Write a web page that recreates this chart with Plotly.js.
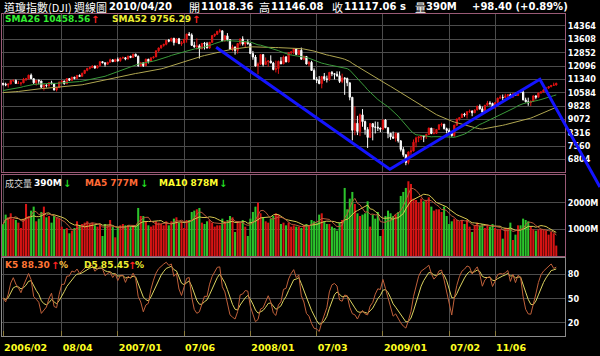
<!DOCTYPE html>
<html><head><meta charset="utf-8">
<script src="https://cdn.plot.ly/plotly-3.0.1.min.js"></script>
<style>html,body{margin:0;padding:0;background:#000;}#chart{width:600px;height:356px;}</style>
</head><body><div id="chart"></div>
<script>
// ---------- DATA ----------
const firstWeek = '2006-02-24';   // first weekly candle (Friday)
// 52 weekly closes before the first candle (only used to warm up the moving averages)
const preClose = [10841,10940,10774,10629,10442,10404,10461,10088,10157,10193,10345,10140,10471,10542,10460,10513,10623,10297,10303,10449,10640,10651,10641,10558,10600,10559,10397,10447,10679,10641,10419,10569,10292,10287,10215,10403,10531,10686,10766,10932,10878,10778,10876,10883,10718,10959,10960,10667,10907,10793,10919,11115];
const openP = [11115,11062,11022,11076,11279,11280,11109,11120,11137,11347,11367,11577,11380,11144,11278,11247,10891,11014,10989,11150,11090,10739,10868,11185,11240,11088,11381,11284,11464,11392,11560,11508,11679,11850,11961,12002,12090,11987,12108,12342,12280,12194,12307,12445,12343,
12463,12398,12556,12565,12487,12653,12580,12767,12647,12114,12276,12110,12481,12354,12560,12612,12961,13120,13264,13327,13556,13507,13668,13424,13639,13360,13409,13611,13908,13851,13265,13182,13240,13079,13379,13358,13114,13442,13821,13896,14066,14093,13522,13807,13595,13043,13177,12981,13372,13626,13340,13451,
13366,12800,12606,12099,12207,12743,12183,12348,12381,12266,11894,11951,12361,12216,12609,12325,12849,12891,13058,12745,12986,12480,12638,12209,12307,11843,11346,11288,11100,11496,11370,11326,11734,11659,11628,11544,11220,11421,11388,11143,10325,8451,8852,8378,9325,8943,8497,8046,8829,8635,8629,8579,
8515,9034,8599,8281,8077,8001,8280,7850,7366,7063,6627,7224,7278,7776,8018,8083,8131,8076,8212,8575,8268,8277,8500,8764,8799,8539,8438,8280,8146,8743,9093,9172,9370,9321,9505,9544,9441,9605,9820,9665,9487,9865,9995,9972,9713,10023,10270,10318,10309,10389,10471,10329,
10520,10428,10618,10610,10173,10067,10012,10099,10402,10325,10567,10625,10742,10851,10927,10997,11018.36];
const highP = [11137,11150,11090,11290,11330,11330,11250,11150,11420,11420,11600,11670,11390,11300,11330,11260,11070,11060,11190,11260,11140,10920,11200,11290,11260,11400,11400,11480,11480,11590,11620,11720,11870,11990,12060,12140,12120,12140,12360,12360,12300,12330,12510,12470,12510,
12580,12560,12630,12600,12680,12670,12790,12790,12690,12330,12300,12510,12500,12580,12640,12970,13140,13290,13350,13560,13630,13690,13690,13660,13690,13510,13620,13920,14020,13950,13470,13660,13330,13400,13460,13460,13450,13850,13930,14080,14200,14100,13850,13960,13600,13300,13190,13400,13660,13780,13470,13600,
13400,12950,12720,12300,12760,12750,12580,12430,12700,12330,12400,12400,12600,12690,12660,12880,12930,13100,13080,13030,13140,12690,12660,12370,12390,11960,11470,11530,11530,11700,11550,11760,11810,11700,11790,11790,11660,11460,11440,11150,10330,9800,9270,9400,9650,9000,8630,8870,8830,8950,8930,8600,
9050,9090,8620,8300,8380,8320,8300,7900,7500,7070,7250,7510,7930,8090,8100,8170,8140,8260,8600,8580,8580,8510,8780,8880,8800,8600,8560,8330,8760,9110,9190,9400,9440,9520,9630,9580,9630,9840,9920,9800,9900,10120,10100,10020,10050,10300,10440,10480,10520,10500,10530,10530,
10590,10630,10730,10730,10300,10300,10140,10420,10420,10580,10640,10790,10900,10940,11010,11150,11146.08];
const lowP = [10980,10950,10870,11060,11190,11100,11090,10980,11130,11240,11350,11370,11080,10990,11060,10860,10700,10880,10880,11060,10700,10650,10860,11100,11040,11080,11240,11270,11340,11380,11480,11500,11640,11800,11900,11990,11930,11960,12100,12250,12060,12170,12300,12320,12330,
12330,12340,12510,12420,12470,12540,12560,12620,12050,12040,12040,12100,12240,12350,12510,12600,12900,13080,13190,13270,13440,13480,13260,13400,13340,13240,13400,13420,13800,13240,13130,13020,12520,13040,13030,13100,13080,13400,13740,13860,13980,13510,13480,13500,13030,12930,12740,12800,13250,13250,13160,13300,
12780,12450,12060,11630,12150,12070,12150,12050,12250,11850,11730,11650,12200,12200,12310,12290,12740,12760,12730,12710,12470,12420,12180,12080,11830,11330,11130,11060,10830,11250,11160,11250,11520,11330,11480,11130,11120,10460,10950,10150,7880,8170,8180,8120,8650,8200,7450,8030,7880,8270,8410,8350,
8470,8570,8000,7910,7990,7810,7750,7250,6950,6470,6520,7050,7250,7490,7780,7900,7780,7960,8180,8230,8220,8250,8490,8660,8500,8280,8250,8090,8080,8710,9000,9160,9220,9120,9440,9250,9430,9580,9620,9430,9480,9850,9860,9680,9670,10000,10240,10170,10300,10270,10300,10310,
10420,10420,10560,10150,10030,9840,9830,10090,10210,10320,10530,10600,10730,10800,10890,10970,10990];
const closeP = [11062,11022,11076,11279,11280,11109,11120,11137,11347,11367,11577,11380,11144,11278,11247,10891,11014,10989,11150,11090,10739,10868,11185,11240,11088,11381,11284,11464,11392,11560,11508,11679,11850,11961,12002,12090,11987,12108,12342,12280,12194,12307,12445,12343,12463,
12398,12556,12565,12487,12653,12580,12767,12647,12114,12276,12110,12481,12354,12560,12612,12961,13120,13264,13327,13556,13507,13668,13424,13639,13360,13409,13611,13908,13851,13265,13182,13240,13079,13379,13358,13114,13442,13821,13896,14066,14093,13522,13807,13595,13043,13177,12981,13372,13626,13340,13451,13366,
12800,12606,12099,12207,12743,12183,12348,12381,12266,11894,11951,12361,12216,12609,12325,12849,12891,13058,12745,12986,12480,12638,12209,12307,11843,11346,11288,11100,11496,11370,11326,11734,11659,11628,11544,11220,11421,11388,11143,10325,8451,8852,8378,9325,8943,8497,8046,8829,8635,8629,8579,8515,
9034,8599,8281,8077,8001,8280,7850,7366,7063,6627,7224,7278,7776,8018,8083,8131,8076,8212,8575,8268,8277,8500,8764,8799,8539,8438,8280,8146,8743,9093,9172,9370,9321,9505,9544,9441,9605,9820,9665,9487,9865,9995,9972,9713,10023,10270,10318,10309,10389,10471,10329,10520,
10428,10618,10610,10173,10067,10012,10099,10402,10325,10567,10625,10742,10851,10927,10997,11019,11117.06];
const volume = [1190,1550,1450,1600,1400,1350,1250,1050,1400,1950,1500,1700,1850,1300,1400,1650,1850,1450,1500,1250,1500,1450,1400,1100,1000,1050,850,950,1050,1300,1150,1200,1250,1300,1200,1250,1150,1100,1200,750,1200,1150,1350,1100,700,
1100,1150,1200,1150,1150,1100,1150,1150,1800,1500,1500,1300,1150,1100,1150,1300,1250,1200,1150,1300,1150,1300,1400,1450,1250,1300,1050,1350,1350,1650,1700,1750,1800,1250,1200,1300,1350,1250,1100,1150,1150,1400,1300,1350,1500,1450,900,1300,1250,1350,1100,750,
1400,1650,1850,2000,1600,1450,1300,1250,1400,1500,1600,1550,1200,1250,1150,1250,1100,1150,1100,1100,1050,1150,1200,1150,1350,1300,1250,1550,1600,1300,1200,1200,1100,1050,950,1250,1350,2550,1750,2150,2400,1950,1600,1500,1550,1600,2050,1100,1550,1400,1650,750,
1000,1500,1700,1600,1500,1550,1650,2250,2400,2550,2800,2700,2150,2100,2000,2150,2050,2100,2200,1850,1700,1750,1750,1650,1850,1500,1200,1300,1400,1350,1300,1350,1200,1350,1100,900,1150,1250,1150,1200,1050,1150,1100,1200,1050,1000,1000,650,1050,1050,1250,600,
800,1150,1150,1400,1350,1300,1100,1000,950,1000,1000,1000,950,800,900,850,390];
const xTickDates = ['2006-02-24','2006-08-04','2007-01-05','2007-07-06','2008-01-04','2008-07-04','2009-01-02','2009-07-03','2009-11-06'];
const xTickText  = ['2006/02','08/04','2007/01','07/06','2008/01','07/03','2009/01','07/02','11/06'];
const priceTicks = [6804,7560,8316,9072,9828,10584,11340,12096,12852,13608,14364];
const volTicks = [1000,2000];
const volTickText = ['1000M','2000M'];
const kdTicks = [20,50,80];
// hand-drawn blue trend line pivots (date, index level)
const trendDates = ['2007-10-02','2009-01-21','2010-03-09','2010-08-21'];
const trendLevels = [13156,6239,11342,5235];

// ---------- DERIVED ----------
const n = closeP.length;
const t0 = Date.parse(firstWeek + 'T00:00:00Z');
const dates = closeP.map((_, i) => new Date(t0 + i*7*864e5).toISOString().slice(0,10));
const allClose = preClose.concat(closeP);
function sma(p){ return closeP.map((_, i) => { let s=0; for(let j=i+preClose.length-p+1;j<=i+preClose.length;j++) s+=allClose[j]; return s/p; }); }
const sma26 = sma(26), sma52 = sma(52);
function vma(p){ return volume.map((_, i) => { let s=0,c=0; for(let j=Math.max(0,i-p+1);j<=i;j++){s+=volume[j];c++;} return s/c; }); }
const vma5 = vma(5), vma10 = vma(10);
const K=[], D=[]; let k=50, d=50;
for(let i=0;i<n;i++){
  let lo=Infinity, hi=-Infinity;
  for(let j=Math.max(0,i-4);j<=i;j++){ lo=Math.min(lo,lowP[j]); hi=Math.max(hi,highP[j]); }
  const rsv = hi>lo ? (closeP[i]-lo)/(hi-lo)*100 : 50;
  k = k*2/3 + rsv/3; d = d*2/3 + k/3; K.push(k); D.push(d);
}
const volColors = closeP.map((c,i) => c >= openP[i] ? '#d81414' : '#2cc42c');

// ---------- LAYOUT GEOMETRY ----------
const W=600, H=356, M={l:2,r:35,t:14,b:20};
const pw=W-M.l-M.r, ph=H-M.t-M.b;
const px = x => (x-M.l)/pw;
const py = y => (H-M.b-y)/ph;
const priceDom=[py(172),1], volDom=[py(256),py(175)], kdDom=[0,py(258)];
const xRange=['2006-02-21','2010-05-17'];
const priceRange=[6086,15044], volRange=[0,3035], kdRange=[3.5,100.2];

const gridC='#4c4c4c';
const tickFontY={family:'DejaVu Sans Condensed, DejaVu Sans',size:9,color:'#ffffff',weight:'bold'};
function xax(anchor, extra){ return Object.assign({anchor:anchor,type:'date',range:xRange,tickvals:xTickDates,
  showticklabels:false,showgrid:true,gridcolor:gridC,gridwidth:1,ticks:'',showline:true,mirror:true,
  linecolor:'#9a5a76',linewidth:1,zeroline:false,fixedrange:true,rangeslider:{visible:false}}, extra||{}); }
function yax(anchor, dom, range, extra){ return Object.assign({anchor:anchor,domain:dom,range:range,side:'right',
  showgrid:true,gridcolor:gridC,gridwidth:1,ticks:'',showline:true,mirror:true,linecolor:'#9a5a76',linewidth:1,
  zeroline:false,fixedrange:true,tickfont:tickFontY,tickformat:'d',ticklabelstandoff:0}, extra||{}); }

const traces = [
  {type:'scatter',mode:'lines',x:dates,y:sma52,xaxis:'x',yaxis:'y',line:{color:'#b0a650',width:1},hoverinfo:'skip'},
  {type:'scatter',mode:'lines',x:dates,y:sma26,xaxis:'x',yaxis:'y',line:{color:'#3a9a3a',width:1},hoverinfo:'skip'},
  {type:'candlestick',x:dates,open:openP,high:highP,low:lowP,close:closeP,xaxis:'x',yaxis:'y',whiskerwidth:0,
    increasing:{line:{color:'#e01414',width:1},fillcolor:'#e01414'},
    decreasing:{line:{color:'#ffffff',width:1},fillcolor:'#ffffff'},hoverinfo:'skip'},
  {type:'bar',x:dates,y:volume,xaxis:'x2',yaxis:'y2',marker:{color:volColors,line:{width:0}},hoverinfo:'skip'},
  {type:'scatter',mode:'lines',x:dates,y:vma10,xaxis:'x2',yaxis:'y2',line:{color:'#d8c850',width:1},hoverinfo:'skip'},
  {type:'scatter',mode:'lines',x:dates,y:vma5,xaxis:'x2',yaxis:'y2',line:{color:'#b85a3a',width:1},hoverinfo:'skip'},
  {type:'scatter',mode:'lines',x:dates,y:D,xaxis:'x3',yaxis:'y3',line:{color:'#dcd460',width:1},hoverinfo:'skip'},
  {type:'scatter',mode:'lines',x:dates,y:K,xaxis:'x3',yaxis:'y3',line:{color:'#c0603a',width:1},hoverinfo:'skip'}
];

// trend line overlay converted through the price axis scale
const xr0=Date.parse(xRange[0]+'T00:00:00Z'), xr1=Date.parse(xRange[1]+'T00:00:00Z');
const fx = dt => (Date.parse(dt+'T00:00:00Z')-xr0)/(xr1-xr0);
const fy = v => priceDom[0] + (v-priceRange[0])/(priceRange[1]-priceRange[0])*(priceDom[1]-priceDom[0]);
const trendPath = trendDates.map((dt,i)=>(i?'L':'M')+fx(dt).toFixed(5)+','+fy(trendLevels[i]).toFixed(5)).join(' ');

const cjk='Noto Sans CJK TC, Noto Sans CJK SC, sans-serif';
const dj='DejaVu Sans';
function txt(x,y,t,color,family,size,bold){ return {xref:'paper',yref:'paper',x:px(x),y:py(y),xanchor:'left',yanchor:'middle',
  text:t,showarrow:false,font:{family:family,size:size,color:color,weight:bold?'bold':'normal'}}; }
const annotations = [
  txt(2,7,'道瓊指數(DJI)','#ffffff',cjk,11,false),
  txt(72,7,'週線圖','#ffffff',cjk,11,false),
  txt(107,7,'2010/04/20','#ffffff',dj,10,true),
  txt(187,7,'開','#ffffff',cjk,11,false),
  txt(199,7,'11018.36','#ffffff',dj,10,true),
  txt(257,7,'高','#ffffff',cjk,11,false),
  txt(269,7,'11146.08','#ffffff',dj,10,true),
  txt(330,7,'收','#ffffff',cjk,11,false),
  txt(342,7,'11117.06 s','#ffffff',dj,10,true),
  txt(413,7,'量','#ffffff',cjk,11,false),
  txt(424,7,'390M','#ffffff',dj,10,true),
  txt(470,7,'+98.40 (+0.89%)','#ffffff',dj,10,true),
  txt(3,19.5,'SMA26 10458.56','#33ee33',dj,9,true),
  txt(89,19.5,'↑','#ff2020',dj,10,true),
  txt(110,19.5,'SMA52 9756.29','#eeee30',dj,9,true),
  txt(190,19.5,'↑','#ff2020',dj,10,true),
  txt(3,183,'成交量','#d8d8d8',cjk,9,false),
  txt(32,183,'390M','#ffffff',dj,9,true),
  txt(61,183,'↓','#22dd22',dj,10,true),
  txt(83,183,'MA5 777M','#ff6a36',dj,9,true),
  txt(138,183,'↓','#22dd22',dj,10,true),
  txt(157,183,'MA10 878M','#ffff30',dj,9,true),
  txt(217,183,'↓','#22dd22',dj,10,true),
  txt(3,265,'K5 88.30','#ff7636',dj,9,true),
  txt(49,265,'↑','#ff2020',dj,10,true),
  txt(57,265,'%','#ffc040',dj,9,true),
  txt(82,265,'D5 85.45','#eeee30',dj,9,true),
  txt(126,265,'↑','#ff2020',dj,10,true),
  txt(133,265,'%','#eeee30',dj,9,true)
];

const layout = {
  width:W,height:H,margin:M,paper_bgcolor:'#000000',plot_bgcolor:'#000000',showlegend:false,hovermode:false,
  bargap:0.2,
  xaxis: xax('y'),
  xaxis2: xax('y2',{matches:'x'}),
  xaxis3: xax('y3',{matches:'x',linecolor:'#8a8a8a',showticklabels:true,ticktext:xTickText,ticks:'inside',ticklen:5,
     tickcolor:'#8a7a3a',ticklabelposition:'outside right',ticklabelstandoff:3,
     tickfont:{family:'DejaVu Sans',size:9.5,color:'#ffff22',weight:'bold'}}),
  yaxis: yax('x',priceDom,priceRange,{tickvals:priceTicks}),
  yaxis2: yax('x2',volDom,volRange,{tickvals:volTicks,ticktext:volTickText}),
  yaxis3: yax('x3',kdDom,kdRange,{tickvals:kdTicks,linecolor:'#8a8a8a'}),
  shapes:[{type:'path',xref:'paper',yref:'paper',path:trendPath,line:{color:'#1414ff',width:3},layer:'above'}],
  annotations: annotations
};
Plotly.newPlot('chart', traces, layout, {staticPlot:true,displayModeBar:false});
</script></body></html>
